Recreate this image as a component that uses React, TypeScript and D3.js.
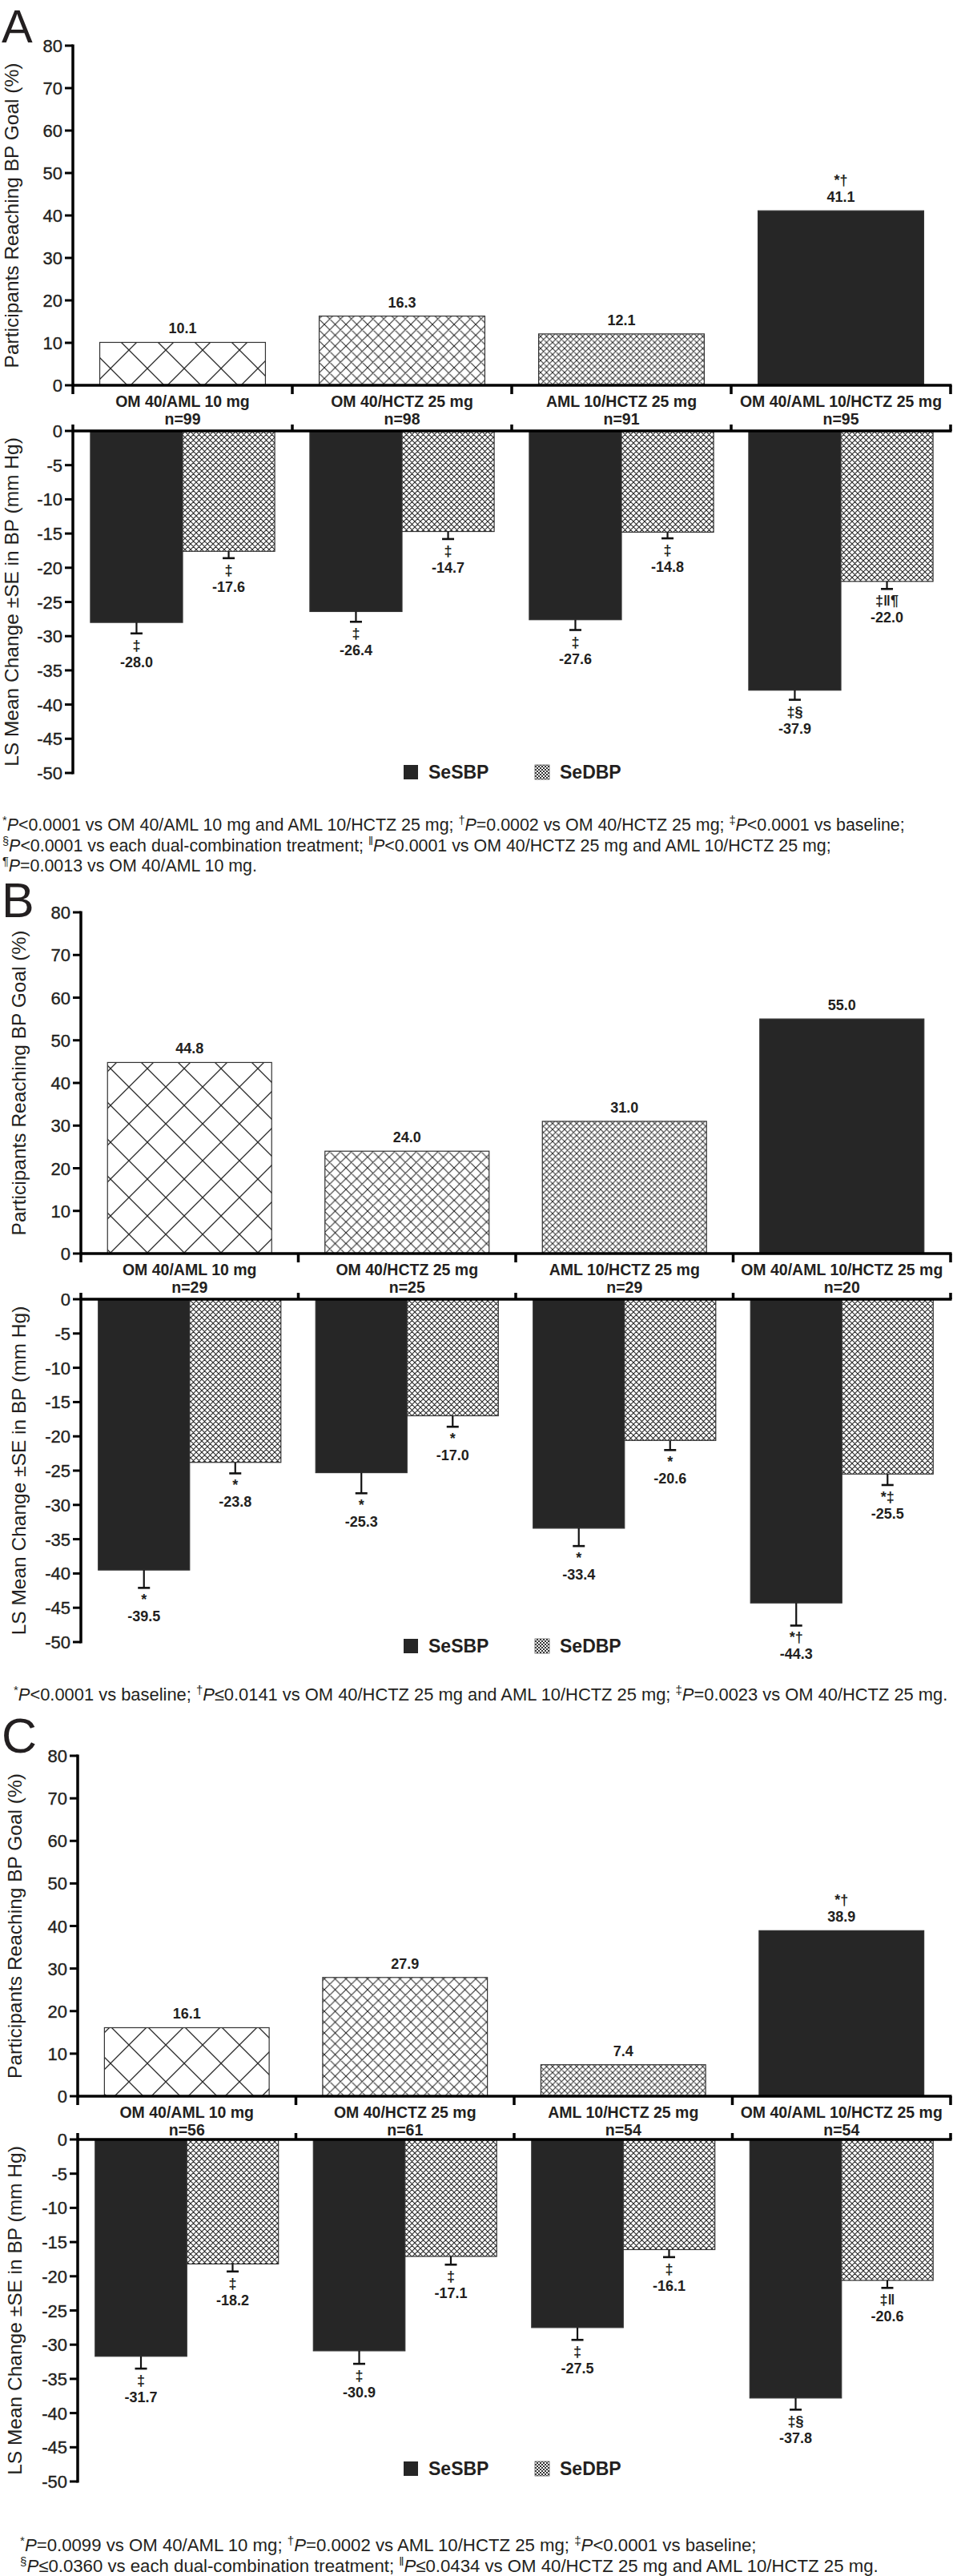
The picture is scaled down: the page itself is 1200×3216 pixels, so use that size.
import React from "react";
import * as d3 from "d3";

// ---------- shared categories / ticks ----------
const categories = [
  "OM 40/AML 10 mg",
  "OM 40/HCTZ 25 mg",
  "AML 10/HCTZ 25 mg",
  "OM 40/AML 10/HCTZ 25 mg",
];
const seriesKeys = ["SeSBP", "SeDBP"];
const goalTicks = [0, 10, 20, 30, 40, 50, 60, 70, 80];
const changeTicks = [0, -5, -10, -15, -20, -25, -30, -35, -40, -45, -50];

// ---------- Panel A ----------
const nA = ["n=99", "n=98", "n=91", "n=95"];
const goalA = [10.1, 16.3, 12.1, 41.1];
const goalMarksA = ["", "", "", "*†"];
const sbpA = [-28.0, -26.4, -27.6, -37.9];
const dbpA = [-17.6, -14.7, -14.8, -22.0];
const sbpSeA = [1.6, 1.5, 1.5, 1.4];
const dbpSeA = [1.0, 1.1, 0.9, 1.1];
const sbpMarksA = ["‡", "‡", "‡", "‡§"];
const dbpMarksA = ["‡", "‡", "‡", "‡‖¶"];
const footA = [
  [["*", "s"], ["P", "i"], ["<0.0001 vs OM 40/AML 10 mg and AML 10/HCTZ 25 mg; ", "n"], ["†", "s"], ["P", "i"], ["=0.0002 vs OM 40/HCTZ 25 mg; ", "n"], ["‡", "s"], ["P", "i"], ["<0.0001 vs baseline;", "n"]],
  [["§", "s"], ["P", "i"], ["<0.0001 vs each dual-combination treatment; ", "n"], ["‖", "s"], ["P", "i"], ["<0.0001 vs OM 40/HCTZ 25 mg and AML 10/HCTZ 25 mg;", "n"]],
  [["¶", "s"], ["P", "i"], ["=0.0013 vs OM 40/AML 10 mg.", "n"]],
];

// ---------- Panel B ----------
const nB = ["n=29", "n=25", "n=29", "n=20"];
const goalB = [44.8, 24.0, 31.0, 55.0];
const goalMarksB = ["", "", "", ""];
const sbpB = [-39.5, -25.3, -33.4, -44.3];
const dbpB = [-23.8, -17.0, -20.6, -25.5];
const sbpSeB = [2.6, 3.0, 2.6, 3.3];
const dbpSeB = [1.6, 1.6, 1.4, 1.6];
const sbpMarksB = ["*", "*", "*", "*†"];
const dbpMarksB = ["*", "*", "*", "*‡"];
const footB = [
  [["*", "s"], ["P", "i"], ["<0.0001 vs baseline; ", "n"], ["†", "s"], ["P", "i"], ["≤0.0141 vs OM 40/HCTZ 25 mg and AML 10/HCTZ 25 mg; ", "n"], ["‡", "s"], ["P", "i"], ["=0.0023 vs OM 40/HCTZ 25 mg.", "n"]],
];

// ---------- Panel C ----------
const nC = ["n=56", "n=61", "n=54", "n=54"];
const goalC = [16.1, 27.9, 7.4, 38.9];
const goalMarksC = ["", "", "", "*†"];
const sbpC = [-31.7, -30.9, -27.5, -37.8];
const dbpC = [-18.2, -17.1, -16.1, -20.6];
const sbpSeC = [1.8, 1.9, 1.8, 1.7];
const dbpSeC = [1.1, 1.2, 1.1, 1.1];
const sbpMarksC = ["‡", "‡", "‡", "‡§"];
const dbpMarksC = ["‡", "‡", "‡", "‡‖"];
const footC = [
  [["*", "s"], ["P", "i"], ["=0.0099 vs OM 40/AML 10 mg; ", "n"], ["†", "s"], ["P", "i"], ["=0.0002 vs AML 10/HCTZ 25 mg; ", "n"], ["‡", "s"], ["P", "i"], ["<0.0001 vs baseline;", "n"]],
  [["§", "s"], ["P", "i"], ["≤0.0360 vs each dual-combination treatment; ", "n"], ["‖", "s"], ["P", "i"], ["≤0.0434 vs OM 40/HCTZ 25 mg and AML 10/HCTZ 25 mg.", "n"]],
];

// ---------- styling ----------
const FONT = "'Liberation Sans', Arial, Helvetica, sans-serif";
const INK = "#231f20";
const DARK = "#262626";
const goalFills = ["url(#hatchL)", "url(#hatchM)", "url(#hatchS)", DARK];

const panels = [
  {
    letter: "A", n: nA, goal: goalA, goalMarks: goalMarksA, sbp: sbpA, dbp: dbpA,
    sbpSe: sbpSeA, dbpSe: dbpSeA, sbpMarks: sbpMarksA, dbpMarks: dbpMarksA, foot: footA,
    layout: { axisX: 91, xEnd: 1187, letterY: 53, letterSize: 58, top80: 57, top0: 481, bot0: 538, bot50: 965, titleX: 23, legendY: 955, footX: 3, footY: 1037, footSize: 21.4 },
  },
  {
    letter: "B", n: nB, goal: goalB, goalMarks: goalMarksB, sbp: sbpB, dbp: dbpB,
    sbpSe: sbpSeB, dbpSe: dbpSeB, sbpMarks: sbpMarksB, dbpMarks: dbpMarksB, foot: footB,
    layout: { axisX: 101, xEnd: 1187, letterY: 1145, letterSize: 61, top80: 1139, top0: 1565, bot0: 1622, bot50: 2050, titleX: 32, legendY: 2046, footX: 17, footY: 2123, footSize: 21.9 },
  },
  {
    letter: "C", n: nC, goal: goalC, goalMarks: goalMarksC, sbp: sbpC, dbp: dbpC,
    sbpSe: sbpSeC, dbpSe: dbpSeC, sbpMarks: sbpMarksC, dbpMarks: dbpMarksC, foot: footC,
    layout: { axisX: 97, xEnd: 1187, letterY: 2188, letterSize: 61, top80: 2192, top0: 2617, bot0: 2671, bot50: 3098, titleX: 27, legendY: 3073, footX: 25, footY: 3185, footSize: 22.2 },
  },
];

function Footnote({ x, y, segs, size }: any) {
  return (
    <text x={x} y={y} fontSize={size} fill={INK} fontFamily={FONT}>
      {segs.map((s: any, i: number) =>
        s[1] === "s" ? (
          <tspan key={i} baselineShift="super" fontSize="68%">{s[0]}</tspan>
        ) : s[1] === "i" ? (
          <tspan key={i} fontStyle="italic">{s[0]}</tspan>
        ) : (
          <tspan key={i}>{s[0]}</tspan>
        )
      )}
    </text>
  );
}

function Panel({ p }: any) {
  const L = p.layout;
  const xCat = d3.scaleBand<string>().domain(categories).range([L.axisX, L.xEnd]);
  const xTop = d3.scaleBand<string>().domain(categories).range([L.axisX, L.xEnd]).paddingInner(0.245).paddingOuter(0.1225);
  const xGrp = d3.scaleBand<string>().domain(categories).range([L.axisX, L.xEnd]).paddingInner(0.16).paddingOuter(0.08);
  const xSer = d3.scaleBand<string>().domain(seriesKeys).range([0, xGrp.bandwidth()]);
  const yTop = d3.scaleLinear().domain([0, 80]).range([L.top0, L.top80]);
  const yBot = d3.scaleLinear().domain([0, -50]).range([L.bot0, L.bot50]);
  const boundaries = categories.slice(1).map((c) => xCat(c) as number).concat([L.xEnd]);
  const axisW = 3.5;

  const changeBars = categories.flatMap((c, i) => [
    { c, key: "SeSBP", v: p.sbp[i], se: p.sbpSe[i], mark: p.sbpMarks[i] },
    { c, key: "SeDBP", v: p.dbp[i], se: p.dbpSe[i], mark: p.dbpMarks[i] },
  ]);

  return (
    <g fontFamily={FONT} fill={INK}>
      <text x={2} y={L.letterY} fontSize={L.letterSize} fill={INK}>{p.letter}</text>

      {/* ---- top chart ---- */}
      <text transform={`translate(${L.titleX},${(L.top0 + L.top80) / 2}) rotate(-90)`} textAnchor="middle" fontSize={24.5} fill={INK}>
        Participants Reaching BP Goal (%)
      </text>
      {categories.map((c, i) => {
        const x = xTop(c) as number;
        const y = yTop(p.goal[i]);
        const cx = x + xTop.bandwidth() / 2;
        return (
          <g key={c}>
            <rect x={x} y={y} width={xTop.bandwidth()} height={L.top0 - y} fill={goalFills[i]} stroke="#333" strokeWidth={1.2} />
            <text x={cx} y={y - 11} textAnchor="middle" fontSize={18} fontWeight="bold">{p.goal[i].toFixed(1)}</text>
            {p.goalMarks[i] && (
              <text x={cx} y={y - 32} textAnchor="middle" fontSize={18} fontWeight="bold">{p.goalMarks[i]}</text>
            )}
            <text x={(xCat(c) as number) + xCat.bandwidth() / 2} y={L.top0 + 27} textAnchor="middle" fontSize={19.5} fontWeight="bold">{c}</text>
            <text x={(xCat(c) as number) + xCat.bandwidth() / 2} y={L.top0 + 49} textAnchor="middle" fontSize={19.5} fontWeight="bold">{p.n[i]}</text>
          </g>
        );
      })}
      <line x1={L.axisX} x2={L.axisX} y1={L.top80 - 1.5} y2={L.top0 + 11} stroke="#000" strokeWidth={axisW} />
      <line x1={L.axisX} x2={L.xEnd + 1.5} y1={L.top0} y2={L.top0} stroke="#000" strokeWidth={axisW} />
      {boundaries.map((bx, i) => (
        <line key={i} x1={bx} x2={bx} y1={L.top0} y2={L.top0 + 11} stroke="#000" strokeWidth={axisW} />
      ))}
      {goalTicks.map((t) => (
        <g key={t}>
          <line x1={L.axisX - 10} x2={L.axisX} y1={yTop(t)} y2={yTop(t)} stroke="#000" strokeWidth={3} />
          <text x={L.axisX - 13} y={yTop(t) + 8} textAnchor="end" fontSize={22} stroke={INK} strokeWidth={0.35}>{t}</text>
        </g>
      ))}

      {/* ---- bottom chart ---- */}
      <text transform={`translate(${L.titleX},${(L.bot0 + L.bot50) / 2}) rotate(-90)`} textAnchor="middle" fontSize={24.5} fill={INK}>
        LS Mean Change ±SE in BP (mm Hg)
      </text>
      {changeBars.map((b, j) => {
        const x = (xGrp(b.c) as number) + (xSer(b.key) as number);
        const w = xSer.bandwidth();
        const cx = x + w / 2;
        const yv = yBot(b.v);
        const ye = yBot(b.v - b.se);
        return (
          <g key={j}>
            <rect x={x} y={L.bot0} width={w} height={yv - L.bot0} fill={b.key === "SeSBP" ? DARK : "url(#hatchD)"} stroke="#333" strokeWidth={1.2} />
            <line x1={cx} x2={cx} y1={yv} y2={ye} stroke="#111" strokeWidth={2.2} />
            <line x1={cx - 7.5} x2={cx + 7.5} y1={ye} y2={ye} stroke="#111" strokeWidth={2.6} />
            <text x={cx} y={ye + 21} textAnchor="middle" fontSize={18} fontWeight="bold">{b.mark}</text>
            <text x={cx} y={ye + 42} textAnchor="middle" fontSize={18} fontWeight="bold">{b.v.toFixed(1)}</text>
          </g>
        );
      })}
      <line x1={L.axisX} x2={L.axisX} y1={L.bot0 - 8} y2={L.bot50 + 1.5} stroke="#000" strokeWidth={axisW} />
      <line x1={L.axisX} x2={L.xEnd + 1.5} y1={L.bot0} y2={L.bot0} stroke="#000" strokeWidth={axisW} />
      {boundaries.map((bx, i) => (
        <line key={i} x1={bx} x2={bx} y1={L.bot0 - 8} y2={L.bot0} stroke="#000" strokeWidth={axisW} />
      ))}
      {changeTicks.map((t) => (
        <g key={t}>
          <line x1={L.axisX - 10} x2={L.axisX} y1={yBot(t)} y2={yBot(t)} stroke="#000" strokeWidth={3} />
          <text x={L.axisX - 13} y={yBot(t) + 8} textAnchor="end" fontSize={22} stroke={INK} strokeWidth={0.35}>{t}</text>
        </g>
      ))}

      {/* ---- legend ---- */}
      <rect x={504} y={L.legendY} width={18} height={18} fill={DARK} />
      <text x={535} y={L.legendY + 17} fontSize={23} fontWeight="bold">{seriesKeys[0]}</text>
      <rect x={668} y={L.legendY} width={18} height={18} fill="url(#checker)" stroke="#555" strokeWidth={0.8} />
      <text x={699} y={L.legendY + 17} fontSize={23} fontWeight="bold">{seriesKeys[1]}</text>

      {/* ---- footnotes ---- */}
      {p.foot.map((segs: any, i: number) => (
        <Footnote key={i} x={L.footX} y={L.footY + i * 25.5} segs={segs} size={L.footSize} />
      ))}
    </g>
  );
}

function Hatch({ id, s, w }: any) {
  return (
    <pattern id={id} patternUnits="userSpaceOnUse" width={s} height={s}>
      <rect width={s} height={s} fill="#fff" />
      <path d={`M0,0L${s},${s}M${s},0L0,${s}M-1,1L1,-1M${s - 1},${s + 1}L${s + 1},${s - 1}M-1,${s - 1}L1,${s + 1}M${s - 1},-1L${s + 1},1`} stroke="#2a2a2a" strokeWidth={w} />
    </pattern>
  );
}

export default function App() {
  return (
    <svg width={1200} height={3216} viewBox="0 0 1200 3216" style={{ position: "absolute", left: 0, top: 0, background: "#fff" }}>
      <defs>
        <Hatch id="hatchL" s={46} w={1.3} />
        <Hatch id="hatchM" s={13.5} w={1.1} />
        <Hatch id="hatchS" s={7.5} w={1} />
        <Hatch id="hatchD" s={7} w={1.1} />
        <pattern id="checker" patternUnits="userSpaceOnUse" width={4} height={4}>
          <rect width={4} height={4} fill="#fff" />
          <rect width={2} height={2} fill="#333" />
          <rect x={2} y={2} width={2} height={2} fill="#333" />
        </pattern>
      </defs>
      <rect width={1200} height={3216} fill="#fff" />
      {panels.map((p) => (
        <Panel key={p.letter} p={p} />
      ))}
    </svg>
  );
}
